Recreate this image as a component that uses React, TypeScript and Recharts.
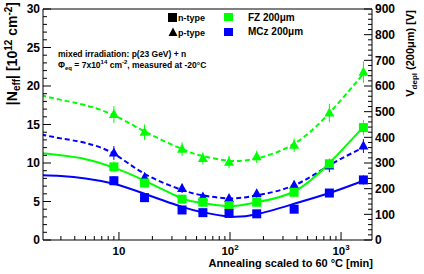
import React from 'react';
import { ComposedChart, Line, Scatter, XAxis, YAxis, ErrorBar, ReferenceLine } from 'recharts';

// ---- data (annealing time in minutes at 60 °C, |Neff| in 1e12 cm^-2) ----
const annealTimes = [9, 17, 37, 57, 98, 174, 378, 785, 1590];

const fzPType = [16.3, 14.0, 11.8, 10.6, 10.1, 10.8, 12.3, 16.5, 21.8];
const fzPTypeErr = [1.1, 1.0, 0.9, 0.8, 0.8, 0.8, 0.9, 1.2, 1.4];
const mczPType = [11.3, 8.1, 6.7, 5.6, 5.4, 6.0, 7.1, 9.6, 12.2];
const mczPTypeErr = [0.9, 0.7, 0.6, 0.5, 0.5, 0.5, 0.6, 0.8, 0.9];
const fzNType = [9.5, 7.4, 5.3, 4.9, 4.45, 4.9, 6.2, 9.9, 14.6];
const fzNTypeErr = [0.7, 0.6, 0.5, 0.4, 0.4, 0.4, 0.5, 0.7, 1.0];
const mczNType = [7.7, 5.5, 3.9, 3.55, 3.45, 3.4, 4.0, 6.1, 7.8];
const mczNTypeErr = [0.6, 0.5, 0.4, 0.3, 0.3, 0.3, 0.4, 0.5, 0.6];

// fitted curves
const fitTimes = [2, 3, 5, 9, 17, 37, 57, 98, 174, 378, 785, 1590];
const fzPFit = [18.8, 18.2, 17.5, 16.2, 14.1, 11.8, 10.9, 10.3, 10.6, 12.5, 16.5, 21.6];
const mczPFit = [13.7, 13.2, 12.6, 11.2, 8.6, 6.5, 5.8, 5.4, 5.8, 7.1, 9.7, 12.0];
const fzNFit = [11.3, 11.0, 10.5, 9.4, 7.7, 5.4, 4.8, 4.4, 4.9, 6.3, 10.0, 14.7];
const mczNFit = [8.4, 8.3, 8.0, 7.3, 6.0, 4.3, 3.6, 3.05, 3.35, 4.7, 6.1, 7.7];

// ---- ticks ----
const xTicks = [3, 4, 5, 6, 7, 8, 9, 10, 20, 30, 40, 50, 60, 70, 80, 90, 100, 200, 300, 400, 500, 600, 700, 800, 900, 1000];
const xMajorTicks = [10, 100, 1000];
const xMajorExponents = ['', '2', '3'];
const leftTicks = [0, 1, 2, 3, 4, 5, 6, 7, 8, 9, 10, 11, 12, 13, 14, 15, 16, 17, 18, 19, 20, 21, 22, 23, 24, 25, 26, 27, 28, 29, 30];
const leftLabels = [0, 5, 10, 15, 20, 25, 30];
const rightTicks = Array.from({ length: 46 }, (_, i) => i * 20);
const rightLabels = [0, 100, 200, 300, 400, 500, 600, 700, 800, 900];

const GREEN = '#00ff00';
const BLUE = '#0000ff';
const FONT = '"Liberation Sans", Arial, Helvetica, sans-serif';

const toPoints = (xs: number[], ys: number[], errs?: number[]) =>
  xs.map((x, i) => ({ x, y: ys[i], err: errs ? errs[i] : 0 }));

const fzP = toPoints(annealTimes, fzPType, fzPTypeErr);
const mczP = toPoints(annealTimes, mczPType, mczPTypeErr);
const fzN = toPoints(annealTimes, fzNType, fzNTypeErr);
const mczN = toPoints(annealTimes, mczNType, mczNTypeErr);
const fzPF = toPoints(fitTimes, fzPFit);
const mczPF = toPoints(fitTimes, mczPFit);
const fzNF = toPoints(fitTimes, fzNFit);
const mczNF = toPoints(fitTimes, mczNFit);

const XTick = (props: any) => {
  const { x, y, payload } = props;
  const v = payload.value;
  const idx = xMajorTicks.indexOf(v);
  const major = idx >= 0;
  return (
    <g>
      <line x1={x} x2={x} y1={y} y2={y - (major ? 8 : 4)} stroke="#000" strokeWidth={1} />
      {major && (
        <text x={x} y={y + 15} textAnchor="middle" fontFamily={FONT} fontWeight="bold" fontSize={11.5} fill="#000">
          10
          {xMajorExponents[idx] && (
            <tspan dy={-5} fontSize={8}>
              {xMajorExponents[idx]}
            </tspan>
          )}
        </text>
      )}
    </g>
  );
};

const LeftTick = (props: any) => {
  const { x, y, payload } = props;
  const major = leftLabels.includes(payload.value);
  return (
    <g>
      <line x1={x} x2={x + (major ? 8 : 4)} y1={y} y2={y} stroke="#000" strokeWidth={1} />
      {major && (
        <text x={x - 3} y={y} dy="0.36em" textAnchor="end" fontFamily={FONT} fontWeight="bold" fontSize={12} fill="#000">
          {payload.value}
        </text>
      )}
    </g>
  );
};

const RightTick = (props: any) => {
  const { x, y, payload } = props;
  const major = rightLabels.includes(payload.value);
  return (
    <g>
      <line x1={x} x2={x - (major ? 8 : 4)} y1={y} y2={y} stroke="#000" strokeWidth={1} />
      {major && (
        <text x={x + 3} y={y} dy="0.36em" textAnchor="start" fontFamily={FONT} fontWeight="bold" fontSize={12} fill="#000">
          {payload.value}
        </text>
      )}
    </g>
  );
};

const square = (color: string) => (p: any) => (
  <rect x={p.cx - 4.5} y={p.cy - 4.5} width={9} height={9} fill={color} />
);
const triangle = (color: string) => (p: any) => (
  <polygon
    points={`${p.cx},${p.cy - 5.5} ${p.cx + 5},${p.cy + 3.5} ${p.cx - 5},${p.cy + 3.5}`}
    fill={color}
  />
);

export default function App() {
  const txt = { fontFamily: FONT, fontWeight: 'bold' as const, fill: '#000' };
  return (
    <div style={{ position: 'absolute', left: 0, top: 0, width: 424, height: 274, background: '#fff' }}>
      <ComposedChart width={424} height={274} margin={{ top: 9, right: 51, left: 42, bottom: 33 }}>
        <XAxis
          dataKey="x"
          type="number"
          scale="log"
          domain={[2.07, 1900]}
          allowDataOverflow
          ticks={xTicks}
          interval={0}
          tick={<XTick />}
          tickLine={false}
          tickSize={0}
          tickMargin={0}
          height={1}
          axisLine={{ stroke: '#000', strokeWidth: 1 }}
        />
        <YAxis
          yAxisId="left"
          type="number"
          domain={[0, 30]}
          allowDataOverflow
          ticks={leftTicks}
          interval={0}
          tick={<LeftTick />}
          tickLine={false}
          tickSize={0}
          tickMargin={0}
          width={1}
          axisLine={{ stroke: '#000', strokeWidth: 1 }}
        />
        <YAxis
          yAxisId="right"
          orientation="right"
          type="number"
          domain={[0, 900]}
          allowDataOverflow
          ticks={rightTicks}
          interval={0}
          tick={<RightTick />}
          tickLine={false}
          tickSize={0}
          tickMargin={0}
          width={1}
          axisLine={{ stroke: '#000', strokeWidth: 1 }}
        />
        <ReferenceLine yAxisId="left" y={30} stroke="#000" strokeWidth={1} />

        <Line data={fzPF} dataKey="y" yAxisId="left" type="natural" stroke={GREEN} strokeWidth={2} strokeDasharray="5 3" dot={false} isAnimationActive={false} />
        <Line data={mczPF} dataKey="y" yAxisId="left" type="natural" stroke={BLUE} strokeWidth={2} strokeDasharray="5 3" dot={false} isAnimationActive={false} />
        <Line data={fzNF} dataKey="y" yAxisId="left" type="natural" stroke={GREEN} strokeWidth={2} dot={false} isAnimationActive={false} />
        <Line data={mczNF} dataKey="y" yAxisId="left" type="natural" stroke={BLUE} strokeWidth={2} dot={false} isAnimationActive={false} />

        <Scatter data={fzP} dataKey="y" yAxisId="left" shape={triangle(GREEN)} isAnimationActive={false}>
          <ErrorBar dataKey="err" direction="y" width={0} stroke={GREEN} strokeWidth={1} />
        </Scatter>
        <Scatter data={mczP} dataKey="y" yAxisId="left" shape={triangle(BLUE)} isAnimationActive={false}>
          <ErrorBar dataKey="err" direction="y" width={0} stroke={BLUE} strokeWidth={1} />
        </Scatter>
        <Scatter data={fzN} dataKey="y" yAxisId="left" shape={square(GREEN)} isAnimationActive={false}>
          <ErrorBar dataKey="err" direction="y" width={0} stroke={GREEN} strokeWidth={1} />
        </Scatter>
        <Scatter data={mczN} dataKey="y" yAxisId="left" shape={square(BLUE)} isAnimationActive={false}>
          <ErrorBar dataKey="err" direction="y" width={0} stroke={BLUE} strokeWidth={1} />
        </Scatter>
      </ComposedChart>

      <svg width={424} height={274} style={{ position: 'absolute', left: 0, top: 0, pointerEvents: 'none' }}>
        {/* left axis title */}
        <text transform="translate(17,2) rotate(-90)" textAnchor="end" fontSize={14} {...txt}>
          |N<tspan dy={3} fontSize={10}>eff</tspan>
          <tspan dy={-3}>| [10</tspan>
          <tspan dy={-5} fontSize={10}>12</tspan>
          <tspan dy={5}> cm</tspan>
          <tspan dy={-5} fontSize={10}>-2</tspan>
          <tspan dy={5}>]</tspan>
        </text>
        {/* right axis title */}
        <text transform="translate(414,10) rotate(-90)" textAnchor="end" fontSize={11} {...txt}>
          V<tspan dy={3} fontSize={8}>depl</tspan>
          <tspan dy={-3}> (200μm) [V]</tspan>
        </text>
        {/* x axis title */}
        <text x={373} y={267} textAnchor="end" fontSize={11} {...txt}>
          Annealing scaled to 60 °C [min]
        </text>

        {/* legend */}
        <rect x={168} y={13} width={9} height={9} fill="#000" />
        <text x={178} y={20.5} fontSize={9} {...txt}>n-type</text>
        <polygon points="173,27.5 177.5,36 168.5,36" fill="#000" />
        <text x={178} y={35.5} fontSize={9} {...txt}>p-type</text>
        <rect x={224} y={13} width={9} height={8} fill={GREEN} />
        <text x={248} y={20.5} fontSize={10} {...txt}>FZ 200μm</text>
        <rect x={224} y={28} width={9} height={8} fill={BLUE} />
        <text x={248} y={35} fontSize={10} {...txt}>MCz 200μm</text>

        {/* annotation */}
        <text x={58} y={57} fontSize={8.5} {...txt}>mixed irradiation: p(23 GeV) + n</text>
        <text x={58} y={68} fontSize={8.5} {...txt}>
          Φ<tspan dy={2} fontSize={6}>eq</tspan>
          <tspan dy={-2}> = 7x10</tspan>
          <tspan dy={-4} fontSize={6}>14</tspan>
          <tspan dy={4}> cm</tspan>
          <tspan dy={-4} fontSize={6}>-2</tspan>
          <tspan dy={4}>, measured at -20°C</tspan>
        </text>
      </svg>
    </div>
  );
}
